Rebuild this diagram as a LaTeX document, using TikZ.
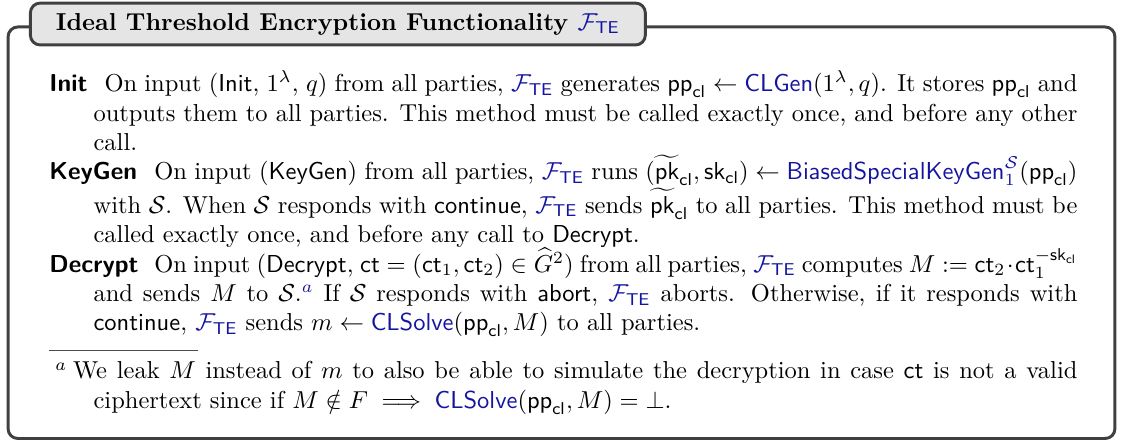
\documentclass[tikz,border=0pt]{standalone}
\usepackage{amsmath}
\usepackage{amssymb}
\usepackage{tikz}
\usetikzlibrary{positioning}
\definecolor{funcblue}{RGB}{20,20,160}
\definecolor{framegray}{RGB}{64,64,64}
\newcommand\Fte{\textcolor{funcblue}{\ensuremath{\mathcal{F}_{\mathsf{TE}}}}}
\newcommand\algo[1]{\textcolor{funcblue}{\mathsf{#1}}}
\newcommand\ppcl{\mathsf{pp}_{\mathsf{cl}}}
\newcommand\skcl{\mathsf{sk}_{\mathsf{cl}}}
\newcommand\pkcl{\widetilde{\mathsf{pk}}_{\mathsf{cl}}}
\newcommand\itemlabel[1]{\noindent\hangindent=18pt\hangafter=1\textsf{\textbf{#1}}\hspace{0.4em}}

\begin{document}
\begin{tikzpicture}
    [frame/.style={draw=framegray, line width=1.2pt, rounded corners=4pt},
      titlebox/.style={draw=framegray, fill=black!10, line width=1.2pt,
        rounded corners=4pt, inner xsep=10.4pt, minimum height=17.1pt, font=\bfseries},
      bodytext/.style={text width=419.6pt, align=justify, inner sep=0pt},
    fnrule/.style={draw=black!70, line width=0.6pt}]
    \useasboundingbox (0,0) rectangle (458.4pt,180pt);
    \draw[frame] (3.3pt,1pt) rectangle (455.1pt,169pt);
    \node[titlebox, anchor=west] (title) at (11.8pt,170.2pt)
      {Ideal Threshold Encryption Functionality \Fte};
    \node[bodytext, anchor=base west] (body) at (20pt,142.6pt) {%
      \itemlabel{Init} On input (\textsf{Init}, $1^\lambda$, $q$) from all parties, \Fte{} generates
      $\ppcl \leftarrow \algo{CLGen}(1^\lambda, q)$. It stores $\ppcl$ and\linebreak outputs them to all
      parties. This method must be called exactly once, and before any other\linebreak call.\par
      \itemlabel{KeyGen} On input (\textsf{KeyGen}) from all parties, \Fte{} runs
      $(\pkcl, \skcl) \leftarrow \textcolor{funcblue}{\mathsf{BiasedSpecialKeyGen}_1^{\mathcal{S}}}(\ppcl)$\linebreak
      with $\mathcal{S}$. When $\mathcal{S}$ responds with \textsf{continue}, \Fte{} sends $\pkcl$
      to all parties. This method must be\linebreak called exactly once, and before any call to
      \textsf{Decrypt}.\par
      \itemlabel{Decrypt} On input (\textsf{Decrypt}, $\mathsf{ct} = (\mathsf{ct}_1, \mathsf{ct}_2)
      \in \widehat{G}^2$) from all parties, \Fte{} computes
      $M := \mathsf{ct}_2 \cdot \mathsf{ct}_1^{-\skcl}$\linebreak and sends $M$ to
      $\mathcal{S}$.$^{\textcolor{funcblue}{a}}$ If $\mathcal{S}$ responds with \textsf{abort},
      \Fte{} aborts. Otherwise, if it responds with\linebreak \textsf{continue}, \Fte{} sends
      $m \leftarrow \algo{CLSolve}(\ppcl, M)$ to all parties.\par};
    % footnote below the items
    \coordinate (rulestart) at (20pt,37pt);
    \draw[fnrule] (rulestart) -- ++(61pt,0);
    \node[bodytext, anchor=base west] (fnote) at (20pt,25.3pt) {%
      \noindent\hangindent=18pt\hangafter=1\hspace*{2.4pt}$^{a}$\hspace{2.4pt}We leak $M$ instead
      of $m$ to also be able to simulate the decryption in case \textsf{ct} is not a valid\linebreak
      ciphertext since if $M \notin F \implies \algo{CLSolve}(\ppcl, M) = \bot$.\par};
  \end{tikzpicture}
\end{document}
